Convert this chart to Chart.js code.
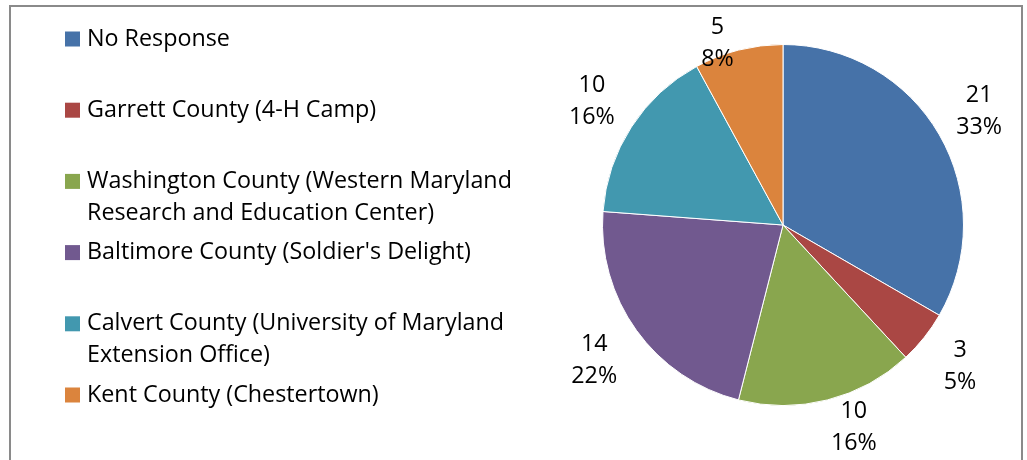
<!DOCTYPE html>
<html>
<head>
<meta charset="utf-8">
<script src="https://cdn.jsdelivr.net/npm/chart.js@4/dist/chart.umd.min.js"></script>
<style>
  html, body { margin: 0; padding: 0; background: #fff; overflow: hidden; }
  #wrap { position: relative; width: 1027px; height: 460px; }
  #frame { position: absolute; left: 9px; top: 5px; width: 1014px; height: 470px; border: 2px solid #8a8a8a; box-sizing: border-box; }
  canvas { position: absolute; left: 0; top: 0; }
</style>
</head>
<body>
<div id="wrap">
  <div id="frame"></div>
  <canvas id="pieCanvas" width="1027" height="460"></canvas>
</div>
<script>
var siteLabels = [
  'No Response',
  'Garrett County (4-H Camp)',
  'Washington County (Western Maryland Research and Education Center)',
  'Baltimore County (Soldier\'s Delight)',
  'Calvert County (University of Maryland Extension Office)',
  'Kent County (Chestertown)'
];
var siteCounts = [21, 3, 10, 14, 10, 5];
var sliceColors = ['#4672a8', '#aa4744', '#89a64e', '#71598f', '#4298af', '#db843d'];

var FONT = '23.3px "Open Sans", "Noto Sans", sans-serif';

// legend on the left, wrapped like the office chart
var sideLegend = {
  id: 'sideLegend',
  afterDraw: function(chart, args, opts) {
    var ctx = chart.ctx;
    ctx.save();
    ctx.font = FONT;
    ctx.textBaseline = 'middle';
    ctx.textAlign = 'left';
    for (var i = 0; i < siteLabels.length; i++) {
      var yc = opts.top + i * opts.step;
      ctx.fillStyle = sliceColors[i];
      ctx.fillRect(opts.left, yc - 7.5, 15, 15);
      // wrap words
      var words = siteLabels[i].split(' ');
      var lines = [], cur = '';
      for (var w = 0; w < words.length; w++) {
        var test = cur ? cur + ' ' + words[w] : words[w];
        if (ctx.measureText(test).width > opts.maxWidth && cur) { lines.push(cur); cur = words[w]; }
        else cur = test;
      }
      lines.push(cur);
      ctx.fillStyle = '#000';
      for (var l = 0; l < lines.length; l++) {
        ctx.fillText(lines[l], opts.left + 22, yc + l * opts.lineHeight);
      }
    }
    ctx.restore();
  }
};

// value + percent labels outside the slices
var outsideLabels = {
  id: 'outsideLabels',
  afterDatasetsDraw: function(chart, args, opts) {
    var ctx = chart.ctx;
    var meta = chart.getDatasetMeta(0);
    var data = chart.data.datasets[0].data;
    var total = data.reduce(function(a, b) { return a + b; }, 0);
    ctx.save();
    ctx.font = FONT;
    ctx.fillStyle = '#000';
    ctx.textAlign = 'center';
    ctx.textBaseline = 'middle';
    meta.data.forEach(function(arc, i) {
      var p = arc.getProps(['x', 'y', 'startAngle', 'endAngle', 'outerRadius'], true);
      var mid = (p.startAngle + p.endAngle) / 2 + (opts.nudge[i] || 0) * Math.PI / 180;
      var r = p.outerRadius + opts.offset[i];
      var x = p.x + Math.cos(mid) * r;
      var y = p.y + Math.sin(mid) * r;
      ctx.fillText(String(data[i]), x, y - 16);
      ctx.fillText(Math.round(data[i] / total * 100) + '%', x, y + 16);
    });
    ctx.restore();
  }
};

var ctx = document.getElementById('pieCanvas').getContext('2d');
var myChart = new Chart(ctx, {
  type: 'pie',
  data: {
    labels: siteLabels,
    datasets: [{
      data: siteCounts,
      backgroundColor: sliceColors,
      borderColor: '#ffffff',
      borderWidth: 1
    }]
  },
  options: {
    responsive: false,
    animation: false,
    layout: { padding: { left: 602, right: 63, top: 44, bottom: 54 } },
    plugins: {
      legend: { display: false },
      tooltip: { enabled: false },
      sideLegend: { left: 65, top: 39, step: 71.2, lineHeight: 32, maxWidth: 440 },
      outsideLabels: { offset: [46, 46, 34, 52, 47, 13], nudge: [0, 0, -5, 0, 0, -5.5] }
    }
  },
  plugins: [sideLegend, outsideLabels]
});
</script>
</body>
</html>
